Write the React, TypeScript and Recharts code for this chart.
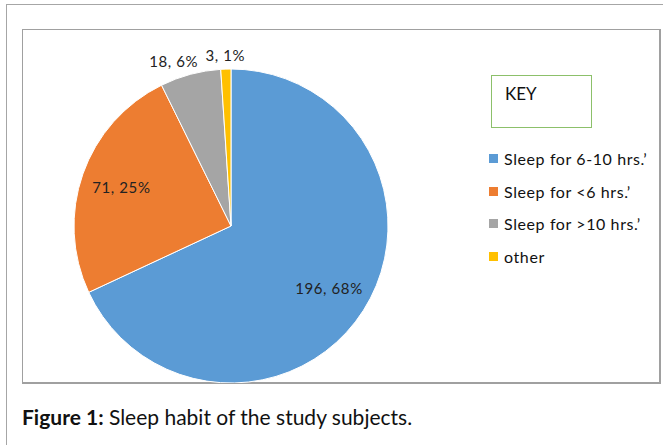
import React from "react";
import { PieChart, Pie, Cell, Legend } from "recharts";

// sleep habit counts
const categories = [
  "Sleep for 6-10 hrs.\u2019",
  "Sleep for <6 hrs.\u2019",
  "Sleep for >10 hrs.\u2019",
  "other",
];
const counts = [196, 71, 18, 3];
const percents = [68, 25, 6, 1];

const COLORS = ["#5b9bd5", "#ed7d31", "#a5a5a5", "#ffc000"];
const FONT = "Lato, 'Open Sans', sans-serif";

const data = categories.map((name, i) => ({
  name,
  value: counts[i],
  pct: percents[i],
}));

const RADIAN = Math.PI / 180;

const renderLabel = (props: any) => {
  const { cx, cy, midAngle, outerRadius, index } = props;
  const d = data[index];
  const small = d.pct < 10;
  const r = small ? outerRadius + 14 : outerRadius * 0.74;
  let x = cx + r * Math.cos(-midAngle * RADIAN);
  const y = cy + r * Math.sin(-midAngle * RADIAN);
  if (index === 2) x -= 13;
  return (
    <text
      x={x}
      y={y}
      fill="#222"
      fontSize={15}
      letterSpacing={0.6}
      fontFamily={FONT}
      textAnchor="middle"
      dominantBaseline="central"
    >
      {`${d.value}, ${d.pct}%`}
    </text>
  );
};

const KeyLegend = () => (
  <div style={{ fontFamily: FONT, color: "#111" }}>
    <div
      style={{
        width: 101,
        height: 53,
        border: "1.5px solid #8cc06a",
        boxSizing: "border-box",
        marginLeft: 2,
        marginBottom: 14,
        paddingLeft: 13,
        paddingTop: 7,
        fontSize: 17,
      }}
    >
      KEY
    </div>
    {data.map((d, i) => (
      <div
        key={d.name}
        style={{
          display: "flex",
          alignItems: "center",
          height: 32.7,
          fontSize: 16,
          letterSpacing: 0.6,
        }}
      >
        <span
          style={{
            width: 9,
            height: 9,
            background: COLORS[i],
            marginRight: 6,
            display: "inline-block",
          }}
        />
        {d.name}
      </div>
    ))}
  </div>
);

export default function App() {
  return (
    <div
      style={{
        position: "absolute",
        left: 0,
        top: 0,
        width: 663,
        height: 445,
        background: "#fff",
        overflow: "hidden",
      }}
    >
      <div
        style={{
          position: "absolute",
          left: 6,
          top: 4,
          width: 700,
          height: 500,
          borderLeft: "1.5px solid #a6a6a6",
          borderTop: "1.5px solid #a6a6a6",
        }}
      />
      <div
        style={{
          position: "absolute",
          left: 22,
          top: 29,
          width: 639,
          height: 355,
          border: "1px solid #a0a0a0",
          borderRightWidth: 2,
          borderBottomWidth: 2,
          boxSizing: "border-box",
        }}
      >
        <PieChart
          width={637}
          height={353}
          margin={{ top: 0, right: 0, bottom: 0, left: 0 }}
        >
          <Pie
            data={data}
            dataKey="value"
            nameKey="name"
            cx={208}
            cy={196}
            outerRadius={157}
            startAngle={90}
            endAngle={-270}
            stroke="#fff"
            strokeWidth={1}
            label={renderLabel}
            labelLine={false}
            isAnimationActive={false}
          >
            {data.map((d, i) => (
              <Cell key={d.name} fill={COLORS[i]} />
            ))}
          </Pie>
          <Legend
            content={<KeyLegend />}
            layout="vertical"
            wrapperStyle={{ position: "absolute", left: 466, top: 45, width: 170 }}
          />
        </PieChart>
      </div>
      <div
        style={{
          position: "absolute",
          left: 22,
          top: 404,
          fontFamily: FONT,
          fontSize: 21,
          color: "#111",
          whiteSpace: "nowrap",
        }}
      >
        <b>Figure 1:</b> Sleep habit of the study subjects.
      </div>
    </div>
  );
}
